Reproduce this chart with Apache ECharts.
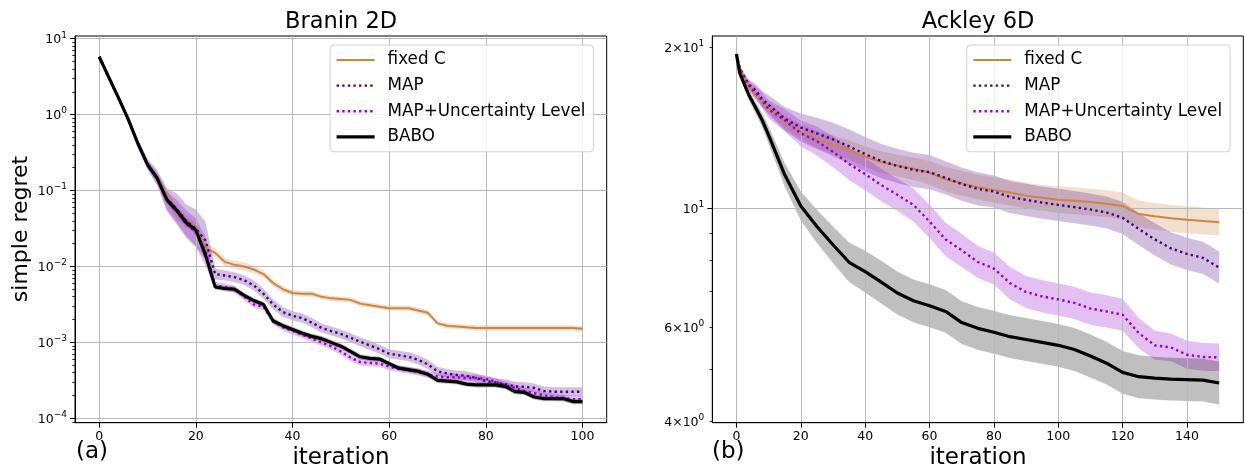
<!DOCTYPE html>
<html><head><meta charset="utf-8">
<script src="https://cdn.jsdelivr.net/npm/echarts@6/dist/echarts.min.js"></script>
<style>html,body{margin:0;padding:0;background:#fff}#c{width:1245px;height:468px}</style>
</head><body><div id="c"></div>
<script>
// ---------------- data ----------------
const methods = ['fixed C', 'MAP', 'MAP+Uncertainty Level', 'BABO'];

// Branin 2D (simple regret, log scale)
const braninX = [0,2,4,6,8,10,12,14,16,18,20,22,24,26,28,30,32,34,36,38,40,42,44,46,48,50,52,54,56,58,60,62,64,66,68,70,72,74,76,78,80,82,84,86,88,90,92,94,96,98,100];
const braninFixedC = [5.79,3.09,1.66,0.871,0.427,0.224,0.148,0.0871,0.0501,0.0398,0.0331,0.0174,0.0151,0.0115,0.0105,0.01,0.00912,0.00794,0.00603,0.00501,0.00447,0.00437,0.00437,0.00398,0.0038,0.00372,0.00363,0.00324,0.00309,0.00295,0.00282,0.00282,0.00282,0.00263,0.00245,0.00178,0.00166,0.00162,0.00158,0.00155,0.00155,0.00155,0.00155,0.00155,0.00155,0.00155,0.00155,0.00155,0.00155,0.00155,0.00151];
const braninMAP = [5.79,3.09,1.66,0.871,0.427,0.224,0.148,0.0759,0.0575,0.0398,0.0316,0.0219,0.00794,0.00759,0.00724,0.00661,0.00562,0.00437,0.00316,0.00251,0.00224,0.00209,0.00182,0.00155,0.00141,0.00129,0.00115,0.00102,0.000912,0.000813,0.000708,0.000676,0.000646,0.000589,0.000513,0.000417,0.000389,0.000372,0.000363,0.000339,0.000309,0.000295,0.000282,0.000263,0.00026,0.000251,0.000229,0.000224,0.000224,0.000224,0.000224];
const braninMAPUL = [5.79,3.09,1.66,0.871,0.417,0.219,0.145,0.0741,0.0537,0.0372,0.0282,0.0158,0.00562,0.00537,0.00501,0.00398,0.00316,0.00295,0.00191,0.00158,0.00141,0.00126,0.00112,0.001,0.000891,0.000759,0.000631,0.00055,0.000537,0.000525,0.000479,0.000447,0.000427,0.000407,0.00038,0.000355,0.000347,0.000347,0.000339,0.000339,0.000331,0.000302,0.000275,0.000251,0.000229,0.000214,0.0002,0.000191,0.000186,0.000178,0.000178];
const braninBABO = [5.79,3.09,1.66,0.871,0.417,0.219,0.145,0.0759,0.055,0.038,0.0302,0.0141,0.00537,0.00513,0.00501,0.00417,0.00355,0.00316,0.00191,0.00166,0.00148,0.00132,0.0012,0.00112,0.001,0.000891,0.000759,0.000646,0.000617,0.000603,0.000525,0.000457,0.000437,0.000417,0.00038,0.000316,0.000309,0.000302,0.000282,0.000275,0.000275,0.000275,0.000263,0.000224,0.000219,0.000191,0.000182,0.000182,0.000182,0.000166,0.000166];
// band half-widths (decades)
const braninSpreadFixedC = [0.01,0.02,0.02,0.02,0.03,0.04,0.05,0.08,0.08,0.07,0.06,0.06,0.055,0.055,0.055,0.055,0.05,0.05,0.045,0.04,0.035,0.035,0.035,0.035,0.035,0.035,0.035,0.035,0.035,0.035,0.035,0.035,0.035,0.035,0.035,0.035,0.035,0.035,0.035,0.035,0.035,0.035,0.035,0.035,0.035,0.035,0.035,0.035,0.035,0.035,0.035];
const braninSpreadMAP = [0.01,0.03,0.03,0.04,0.05,0.07,0.1,0.15,0.2,0.22,0.25,0.25,0.07,0.065,0.065,0.065,0.065,0.065,0.065,0.065,0.06,0.06,0.06,0.06,0.06,0.06,0.06,0.06,0.06,0.06,0.06,0.06,0.06,0.06,0.06,0.06,0.06,0.06,0.06,0.06,0.06,0.06,0.06,0.06,0.06,0.06,0.06,0.06,0.06,0.06,0.06];
const braninSpreadMAPUL = [0.01,0.03,0.03,0.04,0.05,0.06,0.08,0.12,0.15,0.17,0.18,0.2,0.05,0.045,0.045,0.045,0.045,0.045,0.045,0.045,0.045,0.045,0.045,0.045,0.045,0.045,0.045,0.045,0.045,0.045,0.045,0.045,0.045,0.045,0.045,0.045,0.045,0.045,0.045,0.045,0.045,0.045,0.045,0.045,0.045,0.045,0.045,0.045,0.045,0.045,0.045];
const braninSpreadBABO = [0.01,0.02,0.02,0.02,0.02,0.03,0.03,0.05,0.05,0.05,0.05,0.06,0.035,0.035,0.035,0.035,0.035,0.035,0.035,0.035,0.035,0.035,0.035,0.035,0.035,0.035,0.035,0.035,0.035,0.035,0.035,0.035,0.035,0.035,0.035,0.035,0.035,0.035,0.035,0.035,0.035,0.035,0.035,0.035,0.035,0.035,0.035,0.035,0.035,0.035,0.035];

// Ackley 6D
const ackleyX = [0,1,2,4,6,8,10,15,20,25,30,35,40,45,50,55,60,65,70,75,80,85,90,95,100,105,110,115,120,125,130,135,140,145,150];
const ackleyFixedC = [19.4,18.3,17.7,16.8,16.2,15.8,15.4,14.5,13.9,13.45,13.15,12.85,12.48,12.2,12.02,11.85,11.65,11.33,11.14,10.95,10.82,10.7,10.56,10.46,10.38,10.33,10.27,10.2,10.1,9.76,9.66,9.58,9.52,9.47,9.42];
const ackleyMAP = [19.4,18.3,17.8,17.0,16.6,16.0,15.6,14.7,14.15,13.8,13.45,13.05,12.62,12.25,12.0,11.8,11.68,11.4,11.1,10.87,10.75,10.5,10.37,10.25,10.15,10.05,9.95,9.82,9.6,9.15,8.75,8.42,8.22,8.08,7.75];
const ackleyMAPUL = [19.4,18.3,17.7,16.9,16.4,15.9,15.3,14.6,13.8,13.35,12.75,12.1,11.58,11.05,10.6,10.15,9.45,8.75,8.35,7.94,7.72,7.25,6.98,6.85,6.76,6.66,6.5,6.42,6.33,5.85,5.55,5.5,5.33,5.28,5.27];
const ackleyBABO = [19.4,17.9,17.3,16.2,15.4,14.6,13.7,11.55,10.1,9.25,8.55,7.93,7.62,7.28,6.95,6.72,6.58,6.42,6.12,5.97,5.87,5.76,5.69,5.62,5.55,5.45,5.30,5.14,4.94,4.85,4.82,4.80,4.79,4.78,4.72];
const ackleySpreadFixedC = [0,0.004,0.005,0.007,0.008,0.009,0.01,0.012,0.014,0.016,0.017,0.018,0.019,0.02,0.02,0.021,0.022,0.023,0.023,0.023,0.024,0.024,0.024,0.024,0.025,0.025,0.025,0.025,0.025,0.025,0.025,0.025,0.025,0.025,0.025];
const ackleySpreadMAP = [0,0.004,0.006,0.009,0.012,0.015,0.018,0.022,0.026,0.029,0.031,0.032,0.032,0.032,0.032,0.032,0.032,0.031,0.031,0.031,0.03,0.03,0.03,0.03,0.03,0.03,0.03,0.03,0.03,0.03,0.03,0.03,0.03,0.03,0.03];
const ackleySpreadMAPUL = [0,0.004,0.006,0.009,0.012,0.015,0.017,0.021,0.024,0.027,0.029,0.03,0.03,0.03,0.03,0.031,0.031,0.031,0.031,0.03,0.03,0.03,0.03,0.03,0.03,0.03,0.03,0.03,0.03,0.028,0.027,0.026,0.026,0.026,0.026];
const ackleySpreadBABO = [0,0.004,0.006,0.009,0.011,0.013,0.016,0.022,0.027,0.031,0.034,0.037,0.039,0.04,0.04,0.04,0.04,0.04,0.04,0.04,0.04,0.04,0.04,0.04,0.04,0.04,0.04,0.04,0.04,0.04,0.04,0.04,0.04,0.04,0.04];

// tick labels
const braninXTicks = [0,20,40,60,80,100];
const braninYMajor = [1e-4,1e-3,1e-2,1e-1,1,10];
const braninYMinor = [9e-5,2e-4,3e-4,4e-4,5e-4,6e-4,7e-4,8e-4,9e-4,2e-3,3e-3,4e-3,5e-3,6e-3,7e-3,8e-3,9e-3,0.02,0.03,0.04,0.05,0.06,0.07,0.08,0.09,0.2,0.3,0.4,0.5,0.6,0.7,0.8,0.9,2,3,4,5,6,7,8,9];
const ackleyXTicks = [0,20,40,60,80,100,120,140];
const ackleyYMajor = [10];
const ackleyYLabels = [4,6,10,20];
const ackleyYMinor = [4,5,6,7,8,9,20];

// ---------------- styling ----------------
const FONT = 'DejaVu Sans';
const colors = {
  'fixed C': '#cd853f',
  'MAP': '#4b0082',
  'MAP+Uncertainty Level': '#9400d3',
  'BABO': '#000000'
};
const bandColors = {
  'fixed C': 'rgba(205,133,63,0.25)',
  'MAP': 'rgba(75,0,130,0.25)',
  'MAP+Uncertainty Level': 'rgba(148,0,211,0.25)',
  'BABO': 'rgba(0,0,0,0.25)'
};
const lineStyles = {
  'fixed C': {width: 2, type: 'solid'},
  'MAP': {width: 2.4, type: [2.4, 3.2]},
  'MAP+Uncertainty Level': {width: 2.4, type: [2.4, 3.2]},
  'BABO': {width: 3.2, type: 'solid'}
};

const richLabel = {
  b: {fontFamily: FONT, fontSize: 12.5, color: '#000', lineHeight: 16, verticalAlign: 'bottom'},
  s: {fontFamily: FONT, fontSize: 9, color: '#000', lineHeight: 11, verticalAlign: 'top'}
};
function logLabel(v) {
  const e = Math.floor(Math.log10(v) + 1e-9);
  const m = Math.round(v / Math.pow(10, e));
  const es = e < 0 ? '\u2212' + (-e) : String(e);
  return '{b|' + (m === 1 ? '10' : m + '\u00d710') + '}{s|' + es + '}';
}

function xAxisCfg(gi, min, max, ticks) {
  return {
    type: 'value', gridIndex: gi, min: min, max: max, z: 2, position: 'bottom',
    axisLine: {show: true, onZero: false, lineStyle: {color: '#000', width: 1}},
    axisTick: {show: true, length: 5, customValues: ticks, lineStyle: {color: '#000', width: 1}},
    axisLabel: {customValues: ticks, color: '#000', fontFamily: FONT, fontSize: 12.5, margin: 8},
    splitLine: {show: true, lineStyle: {color: '#b8b8b8', width: 1}}
  };
}
function yAxisMain(gi, min, max, ticks, labels) {
  return {
    type: 'log', logBase: 10, gridIndex: gi, min: min, max: max, z: 2, position: 'left',
    axisLine: {show: true, onZero: false, lineStyle: {color: '#000', width: 1}},
    axisTick: {show: true, length: 5, customValues: ticks, lineStyle: {color: '#000', width: 1}},
    axisLabel: {customValues: labels, formatter: logLabel, rich: richLabel, margin: 8},
    splitLine: {show: true, lineStyle: {color: '#b8b8b8', width: 1}}
  };
}
function yAxisMinor(gi, min, max, ticks) {
  return {
    type: 'log', logBase: 10, gridIndex: gi, min: min, max: max, z: 2, position: 'left', offset: 0,
    axisLine: {show: false, onZero: false},
    axisTick: {show: true, length: 2.8, customValues: ticks, lineStyle: {color: '#000', width: 0.8}},
    axisLabel: {show: false},
    splitLine: {show: false}
  };
}

function bandSeriesCfg(name, xs, mean, spread, xi, yi) {
  const data = xs.map((x, i) => [x, mean[i] / Math.pow(10, spread[i]), mean[i] * Math.pow(10, spread[i])]);
  const fill = bandColors[name];
  return {
    name: name + ' band', type: 'custom', xAxisIndex: xi, yAxisIndex: yi, z: 1, silent: true, clip: true,
    data: data, encode: {x: 0, y: [1, 2]},
    renderItem: function (params, api) {
      if (params.dataIndexInside !== 0) return null;
      const n = params.dataInsideLength;
      const up = [], dn = [];
      for (let i = 0; i < n; i++) {
        up.push(api.coord([api.value(0, i), api.value(2, i)]));
        dn.push(api.coord([api.value(0, i), api.value(1, i)]));
      }
      return {type: 'polygon', shape: {points: up.concat(dn.reverse())}, style: {fill: fill, stroke: null}};
    }
  };
}
function lineSeriesCfg(name, xs, mean, xi, yi) {
  return {name: name, type: 'line', xAxisIndex: xi, yAxisIndex: yi,
    data: xs.map((x, i) => [x, mean[i]]), symbol: 'none', z: 3,
    itemStyle: {color: colors[name]},
    lineStyle: {color: colors[name], width: lineStyles[name].width, type: lineStyles[name].type, cap: 'butt'}};
}

const panels = [
  {xs: braninX, data: [braninFixedC, braninMAP, braninMAPUL, braninBABO],
   spread: [braninSpreadFixedC, braninSpreadMAP, braninSpreadMAPUL, braninSpreadBABO], xi: 0, yi: 0},
  {xs: ackleyX, data: [ackleyFixedC, ackleyMAP, ackleyMAPUL, ackleyBABO],
   spread: [ackleySpreadFixedC, ackleySpreadMAP, ackleySpreadMAPUL, ackleySpreadBABO], xi: 1, yi: 2}
];
const bandSeries = [], lineSeries = [];
panels.forEach(p => {
  methods.forEach((m, k) => {
    bandSeries.push(bandSeriesCfg(m, p.xs, p.data[k], p.spread[k], p.xi, p.yi));
    lineSeries.push(lineSeriesCfg(m, p.xs, p.data[k], p.xi, p.yi));
  });
});

function legendCfg(left) {
  return {
    orient: 'vertical', left: left, top: 45, padding: [5, 8, 5, 5],
    itemWidth: 38, itemHeight: 12, itemGap: 5.6,
    backgroundColor: 'rgba(255,255,255,0.8)', borderColor: '#d0d0d0', borderWidth: 1, borderRadius: 4,
    textStyle: {fontFamily: FONT, fontSize: 16.8, color: '#000', lineHeight: 20, padding: [0, 0, 0, 8]},
    selectedMode: false,
    data: methods.map(m => ({
      name: m,
      itemStyle: {opacity: 0},
      lineStyle: {width: lineStyles[m].width, type: lineStyles[m].type, color: colors[m]}
    }))
  };
}

function txt(x, y, text, size, align, rot) {
  return {type: 'text', x: x, y: y, rotation: rot || 0, z: 10,
    style: {text: text, fontFamily: FONT, fontSize: size, fill: '#000', align: align || 'center', verticalAlign: 'middle'}};
}

const option = {
  animation: false,
  backgroundColor: '#fff',
  grid: [
    {left: 75, top: 36, width: 531.7, height: 386.7, show: true, borderColor: '#000', borderWidth: 1, backgroundColor: 'transparent', containLabel: false, outerBoundsMode: 'none'},
    {left: 712.3, top: 36, width: 531, height: 386.7, show: true, borderColor: '#000', borderWidth: 1, backgroundColor: 'transparent', containLabel: false, outerBoundsMode: 'none'}
  ],
  xAxis: [xAxisCfg(0, -5, 105, braninXTicks), xAxisCfg(1, -7.5, 157.5, ackleyXTicks)],
  yAxis: [
    yAxisMain(0, 8.75e-5, 10.86, braninYMajor, braninYMajor),
    yAxisMinor(0, 8.75e-5, 10.86, braninYMinor),
    yAxisMain(1, 3.98, 20.97, ackleyYMajor, ackleyYLabels),
    yAxisMinor(1, 3.98, 20.97, ackleyYMinor)
  ],
  legend: [legendCfg(330), legendCfg(966.7)],
  series: bandSeries.concat(lineSeries),
  graphic: [
    txt(341, 22, 'Branin 2D', 22.5),
    txt(978, 22, 'Ackley 6D', 22.5),
    txt(341, 458, 'iteration', 23),
    txt(978, 458, 'iteration', 23),
    txt(21, 229, 'simple regret', 22, 'center', Math.PI / 2),
    txt(76, 452, '(a)', 23, 'left'),
    txt(712, 452, '(b)', 23, 'left')
  ]
};
const chart = echarts.init(document.getElementById('c'), null, {renderer: 'canvas'});
chart.setOption(option);
</script>
</body></html>
